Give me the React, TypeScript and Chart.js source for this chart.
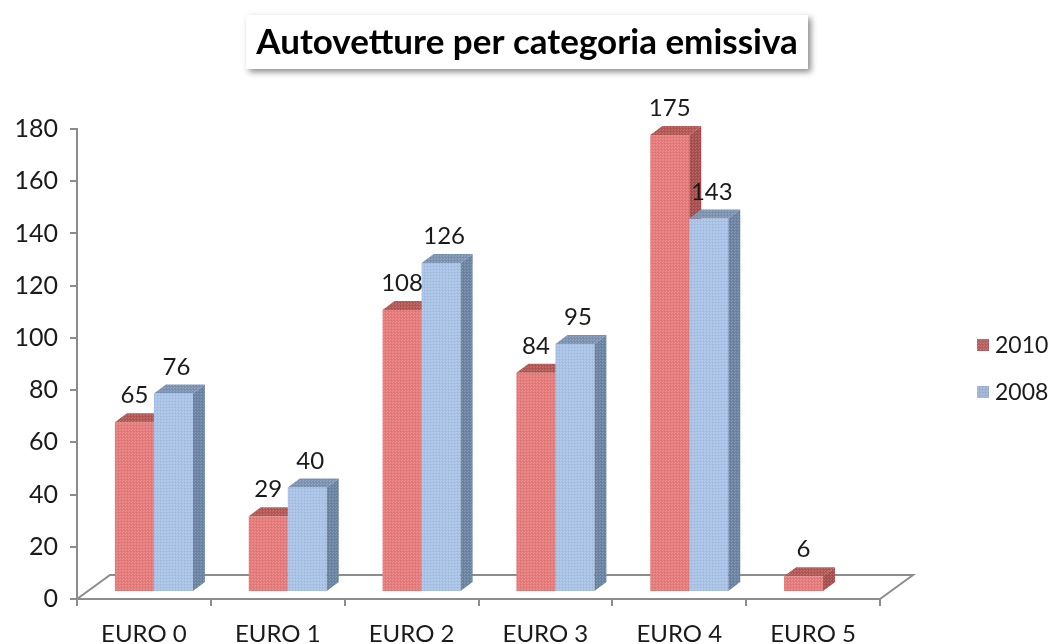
import React, { useEffect, useRef } from "react";
import { Chart, registerables } from "chart.js";

Chart.register(...registerables);

const categories = ["EURO 0", "EURO 1", "EURO 2", "EURO 3", "EURO 4", "EURO 5"];
const seriesNames = ["2010", "2008"];
const values2010 = [65, 29, 108, 84, 175, 6];
const values2008: (number | null)[] = [76, 40, 126, 95, 143, null];
const yMin = 0;
const yMax = 180;
const yStep = 20;
const chartTitle = "Autovetture per categoria emissiva";

const FRONT = ["#E67B7B", "#A9C3E7"];
const TOP = ["#B45856", "#7D93B2"];
const SIDE = ["#A74F4E", "#6C84A4"];
const LEGEND_SWATCH = ["#B8605F", "#9DB4D2"];

const FONT = "Lato, 'Open Sans', sans-serif";

function makePattern(ctx: CanvasRenderingContext2D, color: string) {
  const c = document.createElement("canvas");
  c.width = 3;
  c.height = 3;
  const p = c.getContext("2d")!;
  p.fillStyle = color;
  p.fillRect(0, 0, 3, 3);
  p.fillStyle = "rgba(255,255,255,0.18)";
  p.fillRect(0, 0, 1, 1);
  p.fillRect(2, 1, 1, 1);
  p.fillStyle = "rgba(0,0,0,0.07)";
  p.fillRect(1, 2, 1, 1);
  return ctx.createPattern(c, "repeat") || color;
}

const bars3d = {
  id: "bars3d",
  beforeDatasetsDraw(chart: any) {
    const ctx: CanvasRenderingContext2D = chart.ctx;
    const x = chart.scales.x;
    const y = chart.scales.y;
    const y0 = y.getPixelForValue(0);
    const L = x.left;
    const R = x.right;
    const ddx = 33;
    const ddy = 24;
    ctx.save();
    ctx.strokeStyle = "#8C8C8C";
    ctx.lineWidth = 2;
    ctx.beginPath();
    ctx.moveTo(L, y0);
    ctx.lineTo(L + ddx, y0 - ddy);
    ctx.lineTo(R + ddx, y0 - ddy);
    ctx.lineTo(R, y0);
    ctx.stroke();
    ctx.restore();
  },
  afterDatasetsDraw(chart: any) {
    const ctx: CanvasRenderingContext2D = chart.ctx;
    const offX = 10;
    const offY = 7;
    const dx = 12;
    const dy = 9;
    const n = chart.data.labels.length;
    const metas = [chart.getDatasetMeta(0), chart.getDatasetMeta(1)];
    ctx.save();
    for (let i = 0; i < n; i++) {
      for (let d = 0; d < 2; d++) {
        const v = chart.data.datasets[d].data[i];
        if (v === null || v === undefined) continue;
        const el = metas[d].data[i];
        const w = el.width;
        const x0 = el.x - w / 2 + offX;
        const x1 = el.x + w / 2 + offX;
        const top = el.y - offY;
        const bot = el.base - offY;
        ctx.fillStyle = makePattern(ctx, FRONT[d]) as any;
        ctx.fillRect(x0, top, x1 - x0, bot - top);
        ctx.fillStyle = makePattern(ctx, TOP[d]) as any;
        ctx.beginPath();
        ctx.moveTo(x0, top);
        ctx.lineTo(x0 + dx, top - dy);
        ctx.lineTo(x1 + dx, top - dy);
        ctx.lineTo(x1, top);
        ctx.closePath();
        ctx.fill();
        ctx.fillStyle = makePattern(ctx, SIDE[d]) as any;
        ctx.beginPath();
        ctx.moveTo(x1, top);
        ctx.lineTo(x1 + dx, top - dy);
        ctx.lineTo(x1 + dx, bot - dy);
        ctx.lineTo(x1, bot);
        ctx.closePath();
        ctx.fill();
      }
    }
    ctx.fillStyle = "#1a1a1a";
    ctx.font = `24px ${FONT}`;
    ctx.textAlign = "center";
    ctx.textBaseline = "alphabetic";
    for (let i = 0; i < n; i++) {
      for (let d = 0; d < 2; d++) {
        const v = chart.data.datasets[d].data[i];
        if (v === null || v === undefined) continue;
        const el = metas[d].data[i];
        const cx = el.x + offX + (d === 1 ? 3 : 0);
        const top = el.y - offY;
        ctx.fillText(String(v), cx, top - dy - 10);
      }
    }
    ctx.restore();
  },
  afterDraw(chart: any) {
    const ctx: CanvasRenderingContext2D = chart.ctx;
    ctx.save();
    ctx.shadowColor = "rgba(0,0,0,0.45)";
    ctx.shadowBlur = 6;
    ctx.shadowOffsetX = 3;
    ctx.shadowOffsetY = 3;
    ctx.fillStyle = "#ffffff";
    ctx.fillRect(246, 15, 562, 54);
    ctx.shadowColor = "transparent";
    ctx.fillStyle = "#000";
    ctx.font = `bold 35px ${FONT}`;
    ctx.textAlign = "center";
    ctx.textBaseline = "middle";
    ctx.fillText(chartTitle, 527, 43);
    ctx.font = `23px ${FONT}`;
    ctx.textAlign = "left";
    ctx.textBaseline = "middle";
    const ys = [345, 392];
    for (let d = 0; d < 2; d++) {
      ctx.fillStyle = makePattern(ctx, LEGEND_SWATCH[d]) as any;
      ctx.fillRect(977, ys[d] - 6, 12, 12);
      ctx.fillStyle = "#1a1a1a";
      ctx.fillText(chart.data.datasets[d].label, 995, ys[d] + 1);
    }
    ctx.restore();
  },
};

export default function App() {
  const ref = useRef<HTMLCanvasElement>(null);
  useEffect(() => {
    if (!ref.current) return;
    const chart = new Chart(ref.current, {
      type: "bar",
      data: {
        labels: categories,
        datasets: [
          { label: seriesNames[0], data: values2010, backgroundColor: "rgba(0,0,0,0)" },
          { label: seriesNames[1], data: values2008 as any, backgroundColor: "rgba(0,0,0,0)" },
        ],
      },
      options: {
        responsive: false,
        animation: false,
        events: [],
        layout: { padding: { top: 129, right: 171, left: 0, bottom: 0 } },
        plugins: { legend: { display: false }, title: { display: false }, tooltip: { enabled: false } },
        datasets: { bar: { categoryPercentage: 0.583, barPercentage: 1 } },
        scales: {
          x: {
            offset: true,
            grid: { offset: true, drawOnChartArea: false, drawTicks: true, tickLength: 7, color: "#8C8C8C", lineWidth: 2 },
            border: { color: "#8C8C8C", width: 2 },
            ticks: { color: "#1a1a1a", font: { family: FONT, size: 24 }, padding: 14 },
            afterFit(scale: any) { scale.height = 45; },
          },
          y: {
            min: yMin,
            max: yMax,
            ticks: { stepSize: yStep, color: "#1a1a1a", font: { family: FONT, size: 25 }, padding: 12 },
            grid: { drawOnChartArea: false, drawTicks: true, tickLength: 7, color: "#8C8C8C", lineWidth: 2 },
            border: { color: "#8C8C8C", width: 2 },
            afterFit(scale: any) { scale.width = 77; },
          },
        },
      } as any,
      plugins: [bars3d],
    });
    return () => chart.destroy();
  }, []);
  return (
    <div style={{ position: "absolute", left: 0, top: 0, width: 1051, height: 644, background: "#fff" }}>
      <canvas ref={ref} width={1051} height={644} style={{ display: "block" }} />
    </div>
  );
}
